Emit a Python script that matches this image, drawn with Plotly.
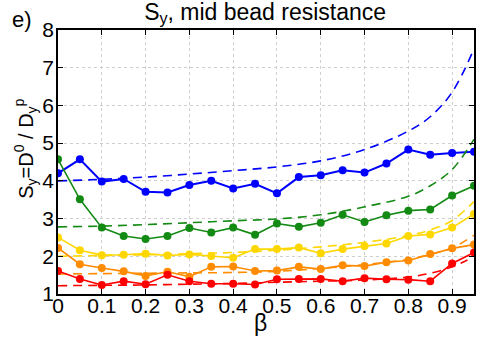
"""
S_y vs beta for the mid bead resistance case (panel e).
"""

import plotly.graph_objects as go

beta = [0.0, 0.05, 0.1, 0.15, 0.2, 0.25, 0.3, 0.35, 0.4, 0.45,
        0.5, 0.55, 0.6, 0.65, 0.7, 0.75, 0.8, 0.85, 0.9, 0.95]

# measured S_y, one list per resistance level
blue_pts = [4.20, 4.57, 3.98, 4.05, 3.71, 3.69, 3.89, 4.00, 3.80, 3.92,
            3.67, 4.10, 4.15, 4.28, 4.22, 4.46, 4.83, 4.69, 4.74, 4.77]
green_pts = [4.57, 3.51, 2.76, 2.54, 2.46, 2.54, 2.75, 2.63, 2.76, 2.57,
             2.87, 2.78, 2.89, 3.10, 2.91, 3.09, 3.21, 3.24, 3.61, 3.87]
yellow_pts = [2.50, 2.16, 2.03, 2.04, 2.07, 2.02, 2.05, 2.01, 1.96, 2.19,
              2.19, 2.23, 2.08, 2.19, 2.27, 2.34, 2.54, 2.58, 2.76, 3.12]
orange_pts = [2.22, 1.79, 1.69, 1.60, 1.48, 1.59, 1.46, 1.72, 1.73, 1.61,
              1.62, 1.72, 1.66, 1.76, 1.74, 1.84, 1.89, 2.06, 2.21, 2.31]
red_pts = [1.61, 1.40, 1.24, 1.34, 1.26, 1.51, 1.34, 1.27, 1.27, 1.25,
           1.39, 1.40, 1.40, 1.34, 1.42, 1.39, 1.38, 1.34, 1.81, 2.10]

# theory curves (dashed)
beta_th = [0.0, 0.1, 0.2, 0.3, 0.4, 0.5, 0.6, 0.7, 0.8, 0.85, 0.9, 0.95]
blue_th = [4.00, 4.04, 4.10, 4.18, 4.27, 4.37, 4.53, 4.83, 5.32, 5.70, 6.35, 7.50]
green_th = [2.78, 2.80, 2.84, 2.89, 2.94, 2.99, 3.10, 3.31, 3.59, 3.87, 4.30, 5.10]
yellow_th = [2.00, 2.02, 2.04, 2.07, 2.10, 2.16, 2.25, 2.37, 2.55, 2.70, 2.95, 3.45]
orange_th = [1.53, 1.54, 1.55, 1.56, 1.57, 1.60, 1.68, 1.78, 1.92, 2.05, 2.22, 2.56]
beta_th_red = [0.0, 0.1, 0.2, 0.3, 0.4, 0.5, 0.6, 0.7, 0.8, 0.85, 0.9, 0.935]
red_th = [1.22, 1.23, 1.24, 1.26, 1.28, 1.31, 1.34, 1.37, 1.45, 1.55, 1.72, 1.90]

series = [
    ("#0000ff", blue_pts, beta_th, blue_th, 2),
    ("#138a13", green_pts, beta_th, green_th, 1.6),
    ("#ffd700", yellow_pts, beta_th, yellow_th, 1.6),
    ("#ff8c00", orange_pts, beta_th, orange_th, 1.6),
    ("#ff0000", red_pts, beta_th_red, red_th, 1.6),
]

fig = go.Figure()

for color, pts, bx, th, lw in series:
    fig.add_trace(
        go.Scatter(
            x=bx, y=th, mode="lines",
            line={"color": color, "width": 1.6, "dash": "9px,6px", "shape": "spline"},
            showlegend=False,
        )
    )
    fig.add_trace(
        go.Scatter(
            x=beta, y=pts, mode="lines+markers",
            line={"color": color, "width": lw},
            marker={"color": color, "size": 8},
            showlegend=False,
        )
    )

axis_style = {
    "showline": True,
    "linecolor": "black",
    "linewidth": 1.5,
    "mirror": "ticks",
    "ticks": "inside",
    "ticklen": 5,
    "tickcolor": "black",
    "showgrid": True,
    "gridcolor": "#cfcfcf",
    "griddash": "dot",
    "zeroline": False,
    "automargin": False,
    "tickfont": {"size": 21, "color": "black"},
}

fig.update_layout(
    width=491,
    height=343,
    plot_bgcolor="white",
    paper_bgcolor="white",
    font={"family": "Liberation Sans, Arial, sans-serif", "color": "black"},
    margin={"l": 58, "r": 17, "t": 30, "b": 49},
    title={
        "text": "S<sub>y</sub>, mid bead resistance",
        "x": 0.54, "xanchor": "center",
        "y": 0.99, "yanchor": "top",
        "font": {"size": 23},
    },
    xaxis={
        **axis_style,
        "range": [0, 0.95],
        "tickvals": [0, 0.1, 0.2, 0.3, 0.4, 0.5, 0.6, 0.7, 0.8, 0.9],
        "ticktext": ["0", "0.1", "0.2", "0.3", "0.4", "0.5", "0.6", "0.7", "0.8", "0.9"],
        "ticklabelstandoff": -8,
    },
    yaxis={
        **axis_style,
        "range": [1, 8],
        "dtick": 1,
        "ticklabelstandoff": -2,
    },
)

# axis titles placed as annotations so they sit where the original has them
fig.add_annotation(
    x=0.486, y=-0.108, xref="paper", yref="paper",
    text="β", showarrow=False, font={"size": 23},
    xanchor="center", yanchor="middle",
)
fig.add_annotation(
    x=-0.077, y=0.55, xref="paper", yref="paper",
    text="S<sub>y</sub>=D<sup>0</sup> / D<sub>y</sub><sup>p</sup>",
    textangle=-90, showarrow=False, font={"size": 20},
    xanchor="center", yanchor="middle",
)
fig.add_annotation(
    x=-0.115, y=1.04, xref="paper", yref="paper",
    text="e)", showarrow=False, font={"size": 22},
    xanchor="left", yanchor="middle",
)

# drop the default page margin so the 491x343 figure fills the window
fig.write_html(
    "out.html",
    config={"displayModeBar": False},
    post_script="document.body.style.margin = '0';",
)
